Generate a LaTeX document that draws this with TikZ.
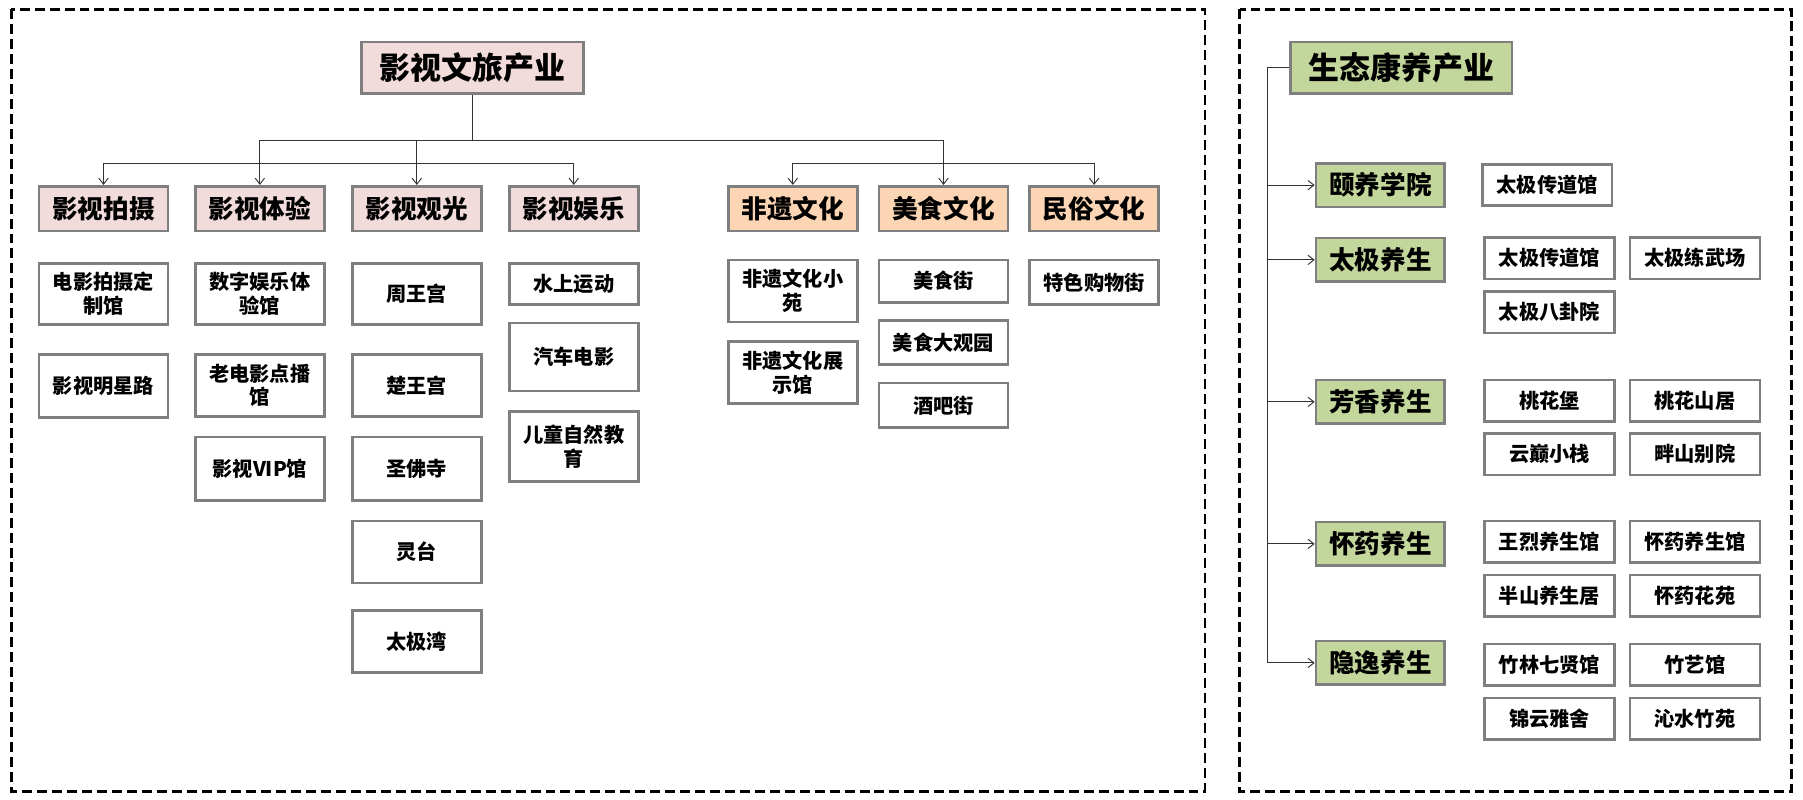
\documentclass[tikz,border=0pt]{standalone}
\usepackage{fontspec}
\setmainfont{Noto Sans CJK SC}
\usetikzlibrary{arrows.meta}

\begin{document}
\begin{tikzpicture}[x=0.03cm, y=-0.03cm,
    kasten/.style={draw=rahmen, line width=2pt, inner sep=0pt, align=center},
    haupt/.style={kasten, minimum width=5.79cm, minimum height=1.35cm,
      font=\bfseries\fontsize{23}{27}\selectfont},
    ebene/.style={kasten, minimum width=3.36cm, minimum height=1.17cm,
      font=\bfseries\fontsize{19}{22}\selectfont},
    blatt/.style={kasten, fill=white, minimum width=3.36cm,
      font=\bfseries\fontsize{15}{17.5}\selectfont},
    rblatt/.style={blatt, minimum width=3.39cm, minimum height=1.08cm},
    linie/.style={draw=black!80, line width=0.7pt},
    pfeil/.style={linie, -{Straight Barb[length=4.5pt,width=7pt]}},
    rand/.style={draw=black, line width=2.1pt, dash pattern=on 7.4pt off 3.7pt}
  ]

  % --- Farben ---
  \definecolor{rahmen}{HTML}{7F7F7F} % Grau   - Kastenrand
  \definecolor{rosa}{HTML}{F2DCDB}   % Rosa   - Film
  \definecolor{apri}{HTML}{FCD5B4}   % Orange - Kultur
  \definecolor{gruen}{HTML}{C3D69B}  % Gruen  - Gesundheit

  \useasboundingbox (0,0) rectangle (1568,695);

  % --- Rahmen ---
  \draw[rand] (10,8) rectangle (1048,688);
  \draw[rand] (1078,8) rectangle (1558,688);

  % --- linker Baum ---
  \node[haupt, fill=rosa] (wl) at (411,59) {影视文旅产业};

  \node[ebene, fill=rosa] (paishe)    at (90,181.5)  {影视拍摄};
  \node[ebene, fill=rosa] (tiyan)     at (226,181.5) {影视体验};
  \node[ebene, fill=rosa] (guanguang) at (362.5,181.5) {影视观光};
  \node[ebene, fill=rosa] (yule)      at (499,181.5) {影视娱乐};
  \node[ebene, fill=apri] (feiyi)     at (689.5,181.5) {非遗文化};
  \node[ebene, fill=apri] (meishi)    at (820.5,181.5) {美食文化};
  \node[ebene, fill=apri] (minsu)     at (951.5,181.5) {民俗文化};

  % Spalte 1
  \node[blatt, minimum height=1.59cm] (dingzhi)  at (90,255.5) {电影拍摄定\\制馆};
  \node[blatt, minimum height=1.65cm] (mingxing) at (90,335.5) {影视明星路};
  % Spalte 2
  \node[blatt, minimum height=1.59cm] (shuzi)   at (226,255.5) {数字娱乐体\\验馆};
  \node[blatt, minimum height=1.62cm] (laodian) at (226,335)   {老电影点播\\馆};
  \node[blatt, minimum height=1.65cm] (vip)     at (226,407.5) {影视VIP馆};
  % Spalte 3
  \node[blatt, minimum height=1.59cm] (zhou)     at (362.5,255.5) {周王宫};
  \node[blatt, minimum height=1.62cm] (chu)      at (362.5,335)   {楚王宫};
  \node[blatt, minimum height=1.65cm] (shengfo)  at (362.5,407.5) {圣佛寺};
  \node[blatt, minimum height=1.62cm] (lingtai)  at (362.5,480)   {灵台};
  \node[blatt, minimum height=1.62cm] (taijiwan) at (362.5,558)   {太极湾};
  % Spalte 4
  \node[blatt, minimum height=1.08cm] (shuishang) at (499,247)   {水上运动};
  \node[blatt, minimum height=1.77cm] (qiche)     at (499,310.5) {汽车电影};
  \node[blatt, minimum height=1.83cm] (ertong)    at (499,388.5) {儿童自然教\\育};
  % Spalte 5
  \node[blatt, minimum height=1.62cm] (xiaoyuan) at (689.5,253) {非遗文化小\\苑};
  \node[blatt, minimum height=1.62cm] (zhanshi)  at (689.5,324) {非遗文化展\\示馆};
  % Spalte 6
  \node[blatt, minimum height=1.11cm] (meishijie)  at (820.5,244.5) {美食街};
  \node[blatt, minimum height=1.14cm] (daguanyuan) at (820.5,298)   {美食大观园};
  \node[blatt, minimum height=1.17cm] (jiuba)      at (820.5,352.5) {酒吧街};
  % Spalte 7
  \node[blatt, minimum height=1.17cm] (gouwu) at (951.5,245.5) {特色购物街};

  % Verbindungen links
  \coordinate (kL) at (411,122);
  \draw[linie] (wl.south) -- (kL);
  \draw[pfeil] (kL) -| (tiyan.north);
  \draw[pfeil] (kL) -| (guanguang.north);
  \draw[pfeil] (kL) -| (meishi.north);
  \coordinate (qA) at (294,142);
  \draw[pfeil] (qA) -| (paishe.north);
  \draw[pfeil] (qA) -| (yule.north);
  \coordinate (qB) at (820,142);
  \draw[pfeil] (qB) -| (feiyi.north);
  \draw[pfeil] (qB) -| (minsu.north);

  % --- rechter Baum ---
  \node[haupt, fill=gruen] (sl) at (1218.5,59) {生态康养产业};

  \node[ebene, fill=gruen, minimum height=1.14cm] (yiyang)    at (1200.5,161)   {颐养学院};
  \node[ebene, fill=gruen, minimum height=1.14cm] (taiji)     at (1200.5,226)   {太极养生};
  \node[ebene, fill=gruen, minimum height=1.14cm] (fangxiang) at (1200.5,349.5) {芳香养生};
  \node[ebene, fill=gruen, minimum height=1.14cm] (huaiyao)   at (1200.5,473)   {怀药养生};
  \node[ebene, fill=gruen, minimum height=1.14cm] (yinyi)     at (1200.5,576.5) {隐逸养生};

  \node[rblatt] (chuandao0) at (1345.5,161)  {太极传道馆};
  \node[rblatt] (chuandao)  at (1347.5,224.5) {太极传道馆};
  \node[rblatt] (lianwu)    at (1474,224.5)   {太极练武场};
  \node[rblatt] (bagua)     at (1347.5,271.5) {太极八卦院};
  \node[rblatt] (taohuabao) at (1347.5,348.5) {桃花堡};
  \node[rblatt] (shanju)    at (1474,348.5)   {桃花山居};
  \node[rblatt] (yundian)   at (1347.5,395)   {云巅小栈};
  \node[rblatt] (panshan)   at (1474,395)     {畔山别院};
  \node[rblatt] (wanglie)   at (1347.5,471)   {王烈养生馆};
  \node[rblatt] (yaoguan)   at (1474,471)     {怀药养生馆};
  \node[rblatt] (banshan)   at (1347.5,518)   {半山养生居};
  \node[rblatt] (huayuan)   at (1474,518)     {怀药花苑};
  \node[rblatt] (zhulin)    at (1347.5,578)   {竹林七贤馆};
  \node[rblatt] (zhuyi)     at (1474,578)     {竹艺馆};
  \node[rblatt] (jinyun)    at (1347.5,625)   {锦云雅舍};
  \node[rblatt] (qinshui)   at (1474,625)     {沁水竹苑};

  % Verbindungen rechts
  \coordinate (kR) at (1102,59);
  \draw[linie] (sl.west) -- (kR);
  \foreach \ziel in {yiyang,taiji,fangxiang,huaiyao,yinyi}
    \draw[pfeil] (kR) |- (\ziel.west);

\end{tikzpicture}
\end{document}
